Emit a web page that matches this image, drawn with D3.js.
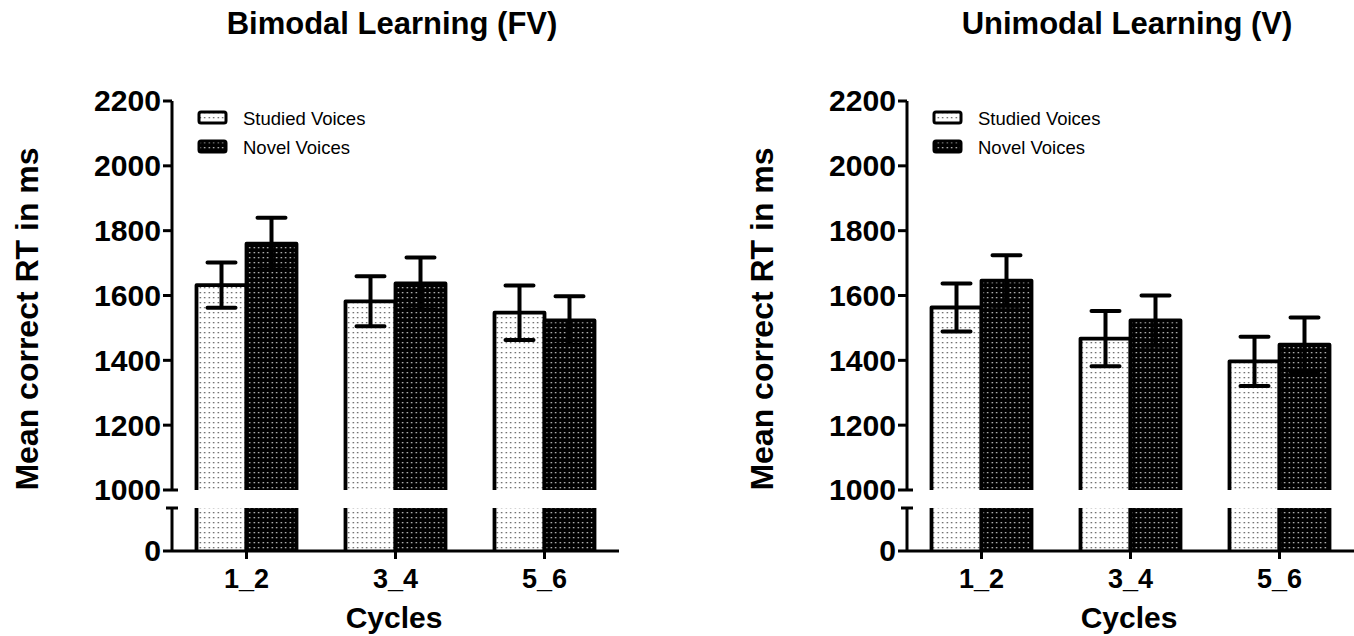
<!DOCTYPE html>
<html>
<head>
<meta charset="utf-8">
<script src="https://cdn.jsdelivr.net/npm/d3@7"></script>
<style>
  html, body { margin: 0; padding: 0; background: #fff; }
  svg { display: block; }
  text { font-family: "Liberation Sans", Arial, sans-serif; fill: #000; }
</style>
</head>
<body>
<svg id="chart" width="1354" height="636"></svg>
<script>
// ---- data ----
const categories = ["1_2", "3_4", "5_6"];
const seriesNames = ["Studied Voices", "Novel Voices"];

const bimodalStudied    = [1632, 1582, 1547];
const bimodalStudiedErr = [70, 77, 84];
const bimodalNovel      = [1760, 1637, 1523];
const bimodalNovelErr   = [80, 80, 75];

const unimodalStudied    = [1563, 1467, 1397];
const unimodalStudiedErr = [74, 85, 76];
const unimodalNovel      = [1646, 1523, 1448];
const unimodalNovelErr   = [78, 77, 84];

const yTicksUpper = [1000, 1200, 1400, 1600, 1800, 2000, 2200];
const yTicksLower = [0];

const titles = ["Bimodal Learning (FV)", "Unimodal Learning (V)"];
const yLabel = "Mean correct RT in ms";
const xLabel = "Cycles";

// ---- layout ----
const svg = d3.select("#chart");
const defs = svg.append("defs");

function dotPattern(id, bg, dot, op) {
  const p = defs.append("pattern").attr("id", id)
    .attr("patternUnits", "userSpaceOnUse")
    .attr("width", 4.5).attr("height", 5);
  p.append("rect").attr("width", 4.5).attr("height", 5).attr("fill", bg);
  p.append("rect").attr("x", 1.6).attr("y", 2).attr("width", 1.3).attr("height", 1.3)
    .attr("fill", dot).attr("opacity", op);
}
dotPattern("dotsLight", "#fff", "#000", 0.7);
dotPattern("dotsDark", "#000", "#fff", 0.85);
const fills = ["url(#dotsLight)", "url(#dotsDark)"];

function stext(g, x, y, str, opt) {
  const o = Object.assign({size: 26, weight: "bold", anchor: "middle", sx: 1.0, rot: 0, baseline: null}, opt || {});
  const t = g.append("text")
    .attr("transform", `translate(${x},${y}) rotate(${o.rot}) scale(${o.sx},1)`)
    .attr("text-anchor", o.anchor)
    .style("font-size", o.size + "px")
    .style("font-weight", o.weight)
    .text(str);
  if (o.baseline) t.attr("dy", o.baseline);
  return t;
}

const panels = [
  { x0: 172, studied: bimodalStudied, studiedErr: bimodalStudiedErr, novel: bimodalNovel, novelErr: bimodalNovelErr, title: titles[0] },
  { x0: 907, studied: unimodalStudied, studiedErr: unimodalStudiedErr, novel: unimodalNovel, novelErr: unimodalNovelErr, title: titles[1] }
];

const yTop = 101, yBreakUpper = 490, yBreakLower = 508, yZero = 551;
const axisW = 447;

panels.forEach(P => {
  const g = svg.append("g");
  const x0 = P.x0, x1 = x0 + axisW;

  const x = d3.scaleBand().domain(categories).range([x0, x1]).padding(0);
  const sub = d3.scaleBand().domain(seriesNames).range([0, 100]).padding(0);
  const yU = d3.scaleLinear().domain([1000, 2200]).range([yBreakUpper, yTop]);
  const yL = d3.scaleLinear().domain([0, 130]).range([yZero, yBreakLower]);

  const groups = categories.map((c, i) => ({
    cat: c,
    vals: [
      { s: 0, v: P.studied[i], e: P.studiedErr[i] },
      { s: 1, v: P.novel[i], e: P.novelErr[i] }
    ]
  }));

  groups.forEach(G => {
    const cx = x(G.cat) + x.bandwidth() / 2;
    G.vals.forEach(d => {
      const bx = cx - 50 + sub(seriesNames[d.s]);
      const bw = sub.bandwidth();
      const top = yU(d.v);
      // upper segment
      g.append("rect").attr("x", bx).attr("y", top).attr("width", bw).attr("height", yBreakUpper - top)
        .attr("fill", fills[d.s]);
      g.append("path").attr("d", `M${bx},${yBreakUpper}V${top}H${bx + bw}V${yBreakUpper}`)
        .attr("fill", "none").attr("stroke", "#000").attr("stroke-width", 3.8).attr("stroke-linejoin", "round");
      // lower segment
      const lt = yL(Math.min(d.v, 130));
      g.append("rect").attr("x", bx).attr("y", lt).attr("width", bw).attr("height", yZero - lt)
        .attr("fill", fills[d.s]);
      g.append("path").attr("d", `M${bx},${lt}V${yZero}M${bx + bw},${lt}V${yZero}`)
        .attr("fill", "none").attr("stroke", "#000").attr("stroke-width", 3.8);
      // error bar
      const ex = bx + bw / 2;
      g.append("path")
        .attr("d", `M${ex},${yU(d.v - d.e)}V${yU(d.v + d.e)}M${ex - 14},${yU(d.v + d.e)}H${ex + 14}M${ex - 14},${yU(d.v - d.e)}H${ex + 14}`)
        .attr("fill", "none").attr("stroke", "#000").attr("stroke-width", 4).attr("stroke-linecap", "round");
    });
  });

  // y axis upper
  const ax = g.append("g").attr("fill", "none").attr("stroke", "#000").attr("stroke-width", 3);
  ax.append("path").attr("d", `M${x0},${yTop}V${yBreakUpper}`);
  yTicksUpper.forEach(t => {
    const yy = yU(t);
    const right = (t === 1000) ? x0 + 6 : x0;
    ax.append("path").attr("d", `M${x0 - 9},${yy}H${right}`);
    stext(g, x0 - 11, yy, d3.format("d")(t), {size: 29, anchor: "end", sx: 1.04, baseline: "0.36em"});
  });
  // y axis lower
  ax.append("path").attr("d", `M${x0},${yBreakLower}V${yZero}M${x0 - 6},${yBreakLower}H${x0 + 6}`);
  yTicksLower.forEach(t => {
    const yy = yL(t);
    ax.append("path").attr("d", `M${x0 - 9},${yy}H${x0}`);
    stext(g, x0 - 11, yy, String(t), {size: 29, anchor: "end", sx: 1.04, baseline: "0.36em"});
  });
  // x axis
  ax.append("path").attr("d", `M${x0},${yZero}H${x1}`);
  categories.forEach(c => {
    const cx = x(c) + x.bandwidth() / 2;
    ax.append("path").attr("d", `M${cx},${yZero}V${yZero + 8}`);
    stext(g, cx, 588, c, {size: 27});
  });

  // labels
  stext(g, x0 + 222, 628, xLabel, {size: 30});
  stext(g, x0 - 145, 319, yLabel, {size: 32, rot: -90, baseline: "0.35em"});
  stext(g, x0 + 220, 34, P.title, {size: 31});

  // legend
  seriesNames.forEach((s, i) => {
    const ly = 112 + i * 29;
    g.append("rect").attr("x", x0 + 27).attr("y", ly).attr("width", 27).attr("height", 11)
      .attr("rx", 2).attr("fill", fills[i]).attr("stroke", "#000").attr("stroke-width", 3);
    stext(g, x0 + 71, ly + 6, s, {size: 18.5, weight: "normal", anchor: "start", baseline: "0.36em"});
  });
});
</script>
</body>
</html>
